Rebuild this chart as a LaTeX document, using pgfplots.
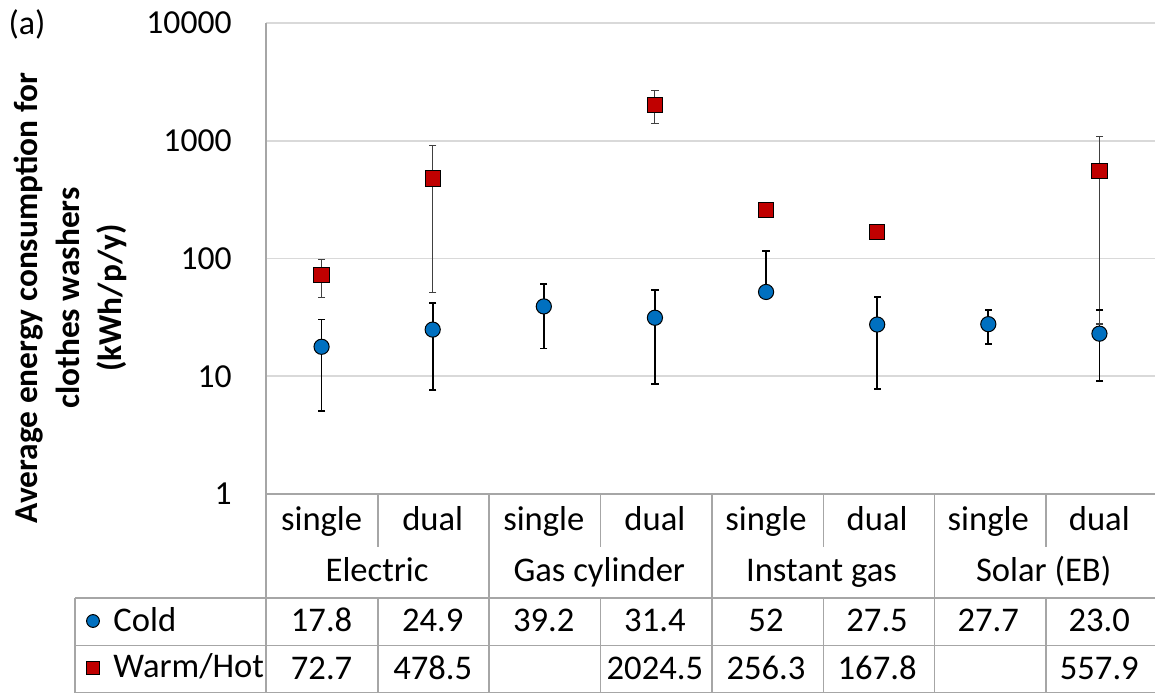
\documentclass[border=0pt]{standalone}
\usepackage{pgfplots}
\pgfplotsset{compat=1.18}
\usepackage{fontspec}
\setmainfont{Carlito}
\definecolor{cold}{HTML}{0070C0}
\definecolor{warm}{HTML}{C00000}
\definecolor{gridc}{HTML}{D9D9D9}
\definecolor{linec}{HTML}{A6A6A6}
\definecolor{errw}{HTML}{404040}
\begin{document}
\begin{tikzpicture}
\useasboundingbox (0,0) rectangle (577.5pt,346.5pt);
\begin{axis}[
  at={(133pt,99.5pt)}, anchor=south west,
  scale only axis, width=444.5pt, height=235.5pt,
  xmin=-0.5, xmax=7.5, ymode=log, ymin=1, ymax=10000,
  xtick=\empty,
  ytick={1,10,100,1000,10000},
  yticklabels={1,10,100,1000,10000},
  yticklabel style={font=\fontsize{16.8}{19}\selectfont, inner sep=0pt, xshift=-17pt},
  major tick length=0pt, minor tick length=0pt,
  ymajorgrids, grid style={gridc, line width=0.8pt},
  axis x line=bottom, axis y line=left,
  axis line style={-, linec, line width=0.8pt},
  clip=false,
  legend cell align=left,
  legend style={at={(axis description cs:-0.2018,-0.3195)}, anchor=west,
    draw=none, fill=none, inner sep=0pt, outer sep=0pt, row sep=9.5pt,
    font=\fontsize{17.3}{19}\selectfont,
    nodes={inner sep=0pt, text height=12pt, text depth=2pt},
    /tikz/every odd column/.append style={column sep=7pt}},
  legend image code/.code={\draw[#1, mark size=3.2pt] plot coordinates {(0pt,0pt)};},
]
% error bars, cold
\addplot[black, line width=0.9pt, mark=-, mark size=1.8pt, mark options={solid, line width=0.9pt},
  unbounded coords=jump, forget plot] coordinates {
  (0,5.04) (0,30.3) (0,nan)
  (1,7.7) (1,41.7) (1,nan)
  (2,17.2) (2,60.8) (2,nan)
  (3,8.6) (3,53.8) (3,nan)
  (4,52) (4,116.7) (4,nan)
  (5,7.8) (5,47.2) (5,nan)
  (6,18.7) (6,36.6) (6,nan)
  (7,9.07) (7,36.6)
};
% error bars, warm/hot
\addplot[errw, line width=0.55pt, mark=-, mark size=1.8pt, mark options={solid, line width=0.55pt},
  unbounded coords=jump, forget plot] coordinates {
  (0,46.9) (0,98.6) (0,nan)
  (1,51.3) (1,905) (1,nan)
  (3,1410) (3,2655) (3,nan)
  (7,27.8) (7,1086)
};
\addplot[only marks, mark=*, mark size=3.8pt, mark options={fill=cold, draw=black, line width=0.5pt}]
  coordinates {(0,17.8) (1,24.9) (2,39.2) (3,31.4) (4,52) (5,27.5) (6,27.7) (7,23.0)};
\addlegendentry{Cold}
\addplot[only marks, mark=square*, mark size=3.8pt, mark options={fill=warm, draw=black, line width=0.5pt}]
  coordinates {(0,72.7) (1,478.5) (3,2024.5) (4,256.3) (5,167.8) (7,557.9)};
\addlegendentry{Warm/Hot}
\end{axis}
\begin{scope}[x=0.5pt, y=-0.5pt, yshift=346.5pt]
  \draw[linec, line width=0.8pt] (75,598) -- (1155,598);
  \draw[linec, line width=0.8pt] (75,645.5) -- (1155,645.5);
  \draw[linec, line width=0.8pt] (75,692.5) -- (1155,692.5);
  \draw[linec, line width=0.8pt] (75,598) -- (75,693);
  \foreach \X in {266,489,712,934.5} \draw[linec, line width=0.8pt] (\X,494) -- (\X,693);
  \foreach \X in {377.7,600.5,823.3,1046} {
    \draw[linec, line width=0.8pt] (\X,494) -- (\X,547);
    \draw[linec, line width=0.8pt] (\X,598) -- (\X,693);
  }
  \begin{scope}[every node/.style={font=\fontsize{17.3}{19}\selectfont, anchor=base, inner sep=0pt}]
  \foreach \i/\t in {0/single,1/dual,2/single,3/dual,4/single,5/dual,6/single,7/dual}
    \node at ({266+111.1*\i+55.6},530) {\t};
  \foreach \i/\t in {0/Electric,1/Gas cylinder,2/Instant gas,3/Solar (EB)}
    \node at ({266+222.2*\i+111.1},581) {\t};
  \foreach \i/\t in {0/17.8,1/24.9,2/39.2,3/31.4,4/52,5/27.5,6/27.7,7/23.0}
    \node at ({266+111.1*\i+55.6},631) {\t};
  \foreach \i/\t in {0/72.7,1/478.5,3/2024.5,4/256.3,5/167.8,7/557.9}
    \node at ({266+111.1*\i+55.6},679) {\t};
  \end{scope}
  \node[font=\fontsize{17}{19}\selectfont, inner sep=0pt] at (27,24) {(a)};
  \node[rotate=90, align=center, inner sep=0pt, font=\bfseries\fontsize{16.7}{21}\selectfont] at (70,298)
    {Average energy consumption for\\clothes washers\\(kWh/p/y)};
\end{scope}
\end{tikzpicture}
\end{document}
